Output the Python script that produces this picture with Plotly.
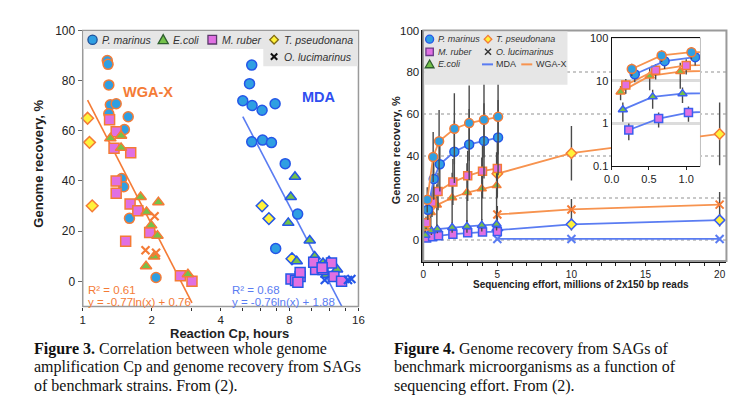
import numpy as np
import plotly.graph_objects as go

# page body has an 8px margin: the figure is laid out 748x407 starting at (8, 8)
OFF = 8
FW, FH = 748, 407
def PX(x): return (x - OFF) / FW
def PY(y): return 1 - (y - OFF) / FH

ORANGE = "#f47b36"
ORANGE_L = "#f7934f"
BLUE_TXT = "#2f4ff0"
BLUE_LINE = "#5a7cf2"
C_PM = "#2f9fe2"
C_EC = "#74c24a"
C_MR = "#e070e2"
C_TP = "#fff23a"
ERR = "#4a4a4a"

# ---------------- Figure 3 data (Reaction Cp vs genome recovery) ----------------
wgax_pm_x = [1.28, 1.29, 1.30, 1.32, 1.40, 1.30, 1.58, 1.52, 1.48, 1.51, 1.60, 2.09]
wgax_pm_y = [88, 86.5, 78.3, 70.4, 70.8, 66.8, 65.6, 60.5, 41, 37.7, 25.1, 1.5]
wgax_mr_x = [1.31, 1.40, 1.37, 1.62, 1.40, 1.40, 1.61, 1.74, 1.96, 1.54, 2.67, 3.0]
wgax_mr_y = [64.4, 59.6, 53, 51.3, 40, 35.1, 30.8, 28.1, 19.5, 16, 2.2, 0]
wgax_ec_x = [1.32, 1.47, 1.47, 1.79, 2.14, 1.90, 1.99, 2.12, 2.05, 1.89, 2.88]
wgax_ec_y = [57, 58, 53.2, 33.6, 31.5, 27.6, 22.3, 18.2, 9.9, 6, 2.8]
wgax_tp_x = [1.05, 1.07, 1.10]
wgax_tp_y = [65, 55.4, 30.1]
wgax_ol_x = [2.06, 1.88, 2.09]
wgax_ol_y = [25.9, 12.4, 11.4]

mda_pm_x = [5.47, 5.35, 5.0, 5.49, 6.07, 6.92, 5.47, 6.1, 6.67, 7.66, 8.68, 6.96]
mda_pm_y = [86.2, 78.8, 72, 70.1, 68.2, 70.8, 55.6, 56.3, 55.3, 46.9, 26.8, 13.1]
mda_ec_x = [8.45, 8.1, 7.9, 9.8, 10.3, 8.6, 11.2, 11.9, 12.9, 11.6]
mda_ec_y = [41.7, 33.6, 23.3, 16.3, 9.9, 8, 7.3, 8, 4.7, 2.6]
mda_mr_x = [8.12, 8.5, 8.9, 8.9, 8.7, 10.4, 10.2, 11.2, 12.5, 13.5, 12.2, 11.1]
mda_mr_y = [0.9, 0.3, 1.9, 3.5, -0.4, 4.7, 7.6, 4.7, 1.9, 0, 7.3, 5.4]
mda_tp_x = [6.07, 6.5, 8.2]
mda_tp_y = [30.1, 25, 9]
mda_ol_x = [11.4, 14.4, 14.9]
mda_ol_y = [0.5, 0.5, 0.9]

# regression fits: recovery = a*ln(x) + b (fraction), drawn over their x spans
fit_wgax = {"a": -0.77, "b": 0.76, "xspan": [1.05, 3.0]}
fit_mda = {"a": -0.76, "b": 1.88, "xspan": [5.0, 13.6]}

# ---------------- Figure 4 data (sequencing effort vs recovery) ----------------
s_wpm_x = [0.27, 0.67, 1.07, 2.1, 3.1, 4.1, 5.05]
s_wpm_y = [19, 39.5, 47, 53, 55.7, 57.3, 58.7]
s_wpm_e = [6, 12, 15, 17, 18, 18, 18]
s_mpm_x = [0.31, 0.71, 1.12, 2.1, 3.1, 4.1, 5.05]
s_mpm_y = [14.3, 29, 36, 42, 45.5, 47.2, 48.8]
s_mpm_e = [5, 10, 13, 15, 17, 18, 18]
s_wmr_x = [0.19, 0.59, 1.0, 2.0, 3.0, 4.0, 5.0]
s_wmr_y = [8, 17.8, 23, 27.5, 30.5, 32.7, 34]
s_wmr_e = [3, 7, 9, 11, 12, 13, 14]
s_wec_x = [0.12, 0.51, 0.92, 1.95, 2.95, 3.95, 4.95]
s_wec_y = [5.5, 13, 16.5, 20, 22.5, 24.3, 25.8]
s_wec_e = [2, 7, 10, 12, 14, 15, 16]
s_mec_x = [0.15, 0.55, 0.95, 1.95, 2.95, 3.95, 4.95]
s_mec_y = [2.1, 4.2, 5.0, 5.8, 6.3, 6.8, 7.3]
s_mec_e = [1, 2, 2, 2.5, 3, 3, 3]
s_mmr_x = [0.23, 0.63, 1.03, 2.0, 3.0, 4.0, 5.0]
s_mmr_y = [0.7, 1.3, 1.8, 2.6, 3.2, 3.6, 3.8]
s_mmr_e = [0.3, 0.5, 0.7, 1, 1, 1, 1]
s_wtp_x = [5, 10, 20]
s_wtp_y = [31.5, 41.3, 50.5]
s_wtp_e = [10, 13, 15]
s_mtp_x = [5, 10, 20]
s_mtp_y = [4.5, 7.3, 9.3]
s_mtp_e = [2, 3, 3]
s_wol_x = [5, 10, 20]
s_wol_y = [12, 14.4, 16.7]
s_wol_e = [4, 5, 6]
s_mol_x = [5, 10, 20]
s_mol_y = [0.3, 0.3, 0.3]
s_mol_e = [0.3, 0.3, 0.3]

fig3_xticks = [1, 2, 4, 8, 16]
fig3_yticks = [0, 20, 40, 60, 80, 100]
fig4_xticks = [0, 5, 10, 15, 20]
fig4_yticks = [0, 20, 40, 60, 80, 100]

fig = go.Figure()

# ---------- Figure 3 traces ----------
def pts(x, y, symbol, fill, edge, size, axis="", lw=1.5):
    if symbol == "x-thin":
        mk = dict(symbol=symbol, size=size, line=dict(color=edge, width=2.2))
    else:
        mk = dict(symbol=symbol, size=size, color=fill, line=dict(color=edge, width=lw))
    return go.Scatter(x=x, y=y, mode="markers", marker=mk, showlegend=False,
                      hoverinfo="skip", xaxis="x" + axis, yaxis="y" + axis, cliponaxis=False)

for fit, col in [(fit_wgax, ORANGE), (fit_mda, BLUE_LINE)]:
    xs = np.array(fit["xspan"])
    ys = 100 * (fit["a"] * np.log(xs) + fit["b"])
    fig.add_trace(go.Scatter(x=xs, y=ys, mode="lines", line=dict(color=col, width=1.6),
                             showlegend=False, hoverinfo="skip"))

fig.add_trace(pts(wgax_tp_x, wgax_tp_y, "diamond", C_TP, ORANGE, 9))
fig.add_trace(pts(wgax_pm_x, wgax_pm_y, "circle", C_PM, ORANGE, 10))
fig.add_trace(pts(wgax_mr_x, wgax_mr_y, "square", C_MR, ORANGE, 10))
fig.add_trace(pts(wgax_ec_x, wgax_ec_y, "triangle-up", C_EC, ORANGE, 10))
fig.add_trace(pts(wgax_ol_x, wgax_ol_y, "x-thin", None, ORANGE, 8))

fig.add_trace(pts(mda_pm_x, mda_pm_y, "circle", C_PM, "#2456e8", 10))
fig.add_trace(pts(mda_tp_x, mda_tp_y, "diamond", C_TP, "#2456e8", 9))
fig.add_trace(pts(mda_ec_x, mda_ec_y, "triangle-up", C_EC, "#2456e8", 10))
fig.add_trace(pts(mda_mr_x, mda_mr_y, "square", C_MR, "#2456e8", 10))
fig.add_trace(pts(mda_ol_x, mda_ol_y, "x-thin", None, "#2456e8", 8))

# ---------- Figure 4 traces ----------
def series(x, y, e, symbol, fill, edge, linecol, size, axis):
    if symbol == "x-thin":
        mk = dict(symbol=symbol, size=size, line=dict(color=edge, width=2))
    else:
        mk = dict(symbol=symbol, size=size, color=fill, line=dict(color=edge, width=1.5))
    return go.Scatter(x=x, y=y, mode="lines+markers", marker=mk,
                      line=dict(color=linecol, width=1.8),
                      error_y=dict(type="data", array=e, visible=True, color=ERR,
                                   thickness=1.4, width=0),
                      showlegend=False, hoverinfo="skip",
                      xaxis="x" + axis, yaxis="y" + axis)

S = [
    (s_mol_x, s_mol_y, s_mol_e, "x-thin", None, BLUE_LINE, BLUE_LINE, 8),
    (s_wol_x, s_wol_y, s_wol_e, "x-thin", None, ORANGE, ORANGE_L, 8),
    (s_mtp_x, s_mtp_y, s_mtp_e, "diamond", C_TP, "#3a5ef0", BLUE_LINE, 8),
    (s_wtp_x, s_wtp_y, s_wtp_e, "diamond", C_TP, ORANGE, ORANGE_L, 8),
    (s_mmr_x, s_mmr_y, s_mmr_e, "square", C_MR, "#3a5ef0", BLUE_LINE, 8),
    (s_mec_x, s_mec_y, s_mec_e, "triangle-up", C_EC, "#3a5ef0", BLUE_LINE, 8),
    (s_wec_x, s_wec_y, s_wec_e, "triangle-up", C_EC, ORANGE, ORANGE_L, 8),
    (s_wmr_x, s_wmr_y, s_wmr_e, "square", C_MR, ORANGE, ORANGE_L, 8),
    (s_mpm_x, s_mpm_y, s_mpm_e, "circle", C_PM, "#2456e8", BLUE_LINE, 9),
    (s_wpm_x, s_wpm_y, s_wpm_e, "circle", C_PM, ORANGE, ORANGE_L, 9),
]
for s in S:
    fig.add_trace(series(*s, axis="2"))
inset_ids = [4, 5, 6, 7, 8, 9]
for i in inset_ids:
    fig.add_trace(series(*S[i], axis="3"))

# ---------- axes ----------
tickfont3 = dict(family="Liberation Sans", size=11.5, color="#222")
tickfont4 = dict(family="Liberation Sans", size=10, color="#222")
fig.update_layout(
    xaxis=dict(domain=[PX(76), PX(357)], type="log", range=[0, np.log10(16)],
               tickvals=fig3_xticks, ticktext=[str(v) for v in fig3_xticks],
               ticks="outside", ticklen=3, tickcolor="#333", showgrid=False, zeroline=False,
               showline=True, linecolor="#333", linewidth=1.3, tickfont=tickfont3,
               minor=dict(tickvals=[3, 5, 6, 7, 10, 12, 14], ticks="outside", ticklen=3,
                          tickcolor="#333", showgrid=False),
               anchor="y"),
    yaxis=dict(domain=[PY(309), PY(24)], range=[-10, 100], tickvals=fig3_yticks,
               ticks="outside", ticklen=4, tickcolor="#666", showgrid=False, zeroline=False,
               showline=True, linecolor="#777", linewidth=1.3,
               tickfont=dict(family="Liberation Sans", size=12, color="#222"), anchor="x"),
    xaxis2=dict(domain=[PX(423), PX(732)], range=[0, 20.46], tickvals=fig4_xticks,
                ticks="outside", ticklen=3, tickcolor="#222", showgrid=False, zeroline=False,
                showline=True, linecolor="#111", linewidth=1.5, tickfont=tickfont4,
                minor=dict(dtick=1, ticks="outside", ticklen=3, tickcolor="#222"),
                anchor="y2"),
    yaxis2=dict(domain=[PY(262), PY(24)], range=[-10.2, 100], tickvals=fig4_yticks,
                ticks="", showgrid=True, gridcolor="#c8c8c8", griddash="dot", gridwidth=1.5,
                zeroline=False, showline=True, linecolor="#111", linewidth=1.5,
                tickfont=dict(family="Liberation Sans", size=11.5, color="#222"), anchor="x2"),
    xaxis3=dict(domain=[PX(615), PX(705)], range=[0, 1.184], tickvals=[0, 0.5, 1.0],
                ticktext=["0.0", "0.5", "1.0"], ticks="outside", ticklen=3, tickcolor="#222",
                showgrid=False, zeroline=False, showline=True, linecolor="#111", linewidth=1.3,
                mirror=True, tickfont=dict(family="Liberation Sans", size=11, color="#222"),
                anchor="y3"),
    yaxis3=dict(domain=[PY(164), PY(32)], type="log", range=[-1, 2],
                tickvals=[0.1, 1, 10, 100], ticktext=["0.1", "1", "10", "100"], ticks="",
                showgrid=True, gridcolor="#dcdcdc", gridwidth=2.5, zeroline=False,
                showline=True, linecolor="#111", linewidth=1.3,
                tickfont=dict(family="Liberation Sans", size=11, color="#222"), anchor="x3"),
)

shapes = []
ann = []
# frames
shapes.append(dict(type="rect", xref="x domain", yref="y domain", x0=0, x1=1, y0=0, y1=1,
                   line=dict(color="#9a9a9a", width=1.5), layer="above"))
shapes.append(dict(type="rect", xref="x2 domain", yref="y2 domain", x0=0, x1=1, y0=0, y1=1,
                   line=dict(color="#9a9a9a", width=2), layer="above"))
shapes.append(dict(type="rect", xref="x3 domain", yref="y3 domain", x0=0, x1=1, y0=0, y1=1,
                   line=dict(color="#999", width=1.3), layer="below"))

# ---------- legends (drawn) ----------
LG = "#e6e6e6"
shapes.append(dict(type="rect", xref="paper", yref="paper", x0=PX(76.5), x1=PX(356.5),
                   y0=PY(43), y1=PY(24.5), fillcolor=LG, line=dict(width=0), layer="above"))
shapes.append(dict(type="rect", xref="paper", yref="paper", x0=PX(260), x1=PX(356.5),
                   y0=PY(61), y1=PY(43), fillcolor=LG, line=dict(width=0), layer="above"))
shapes.append(dict(type="rect", xref="paper", yref="paper", x0=PX(424), x1=PX(570),
                   y0=PY(80), y1=PY(25), fillcolor=LG, line=dict(width=0), layer="above"))

def sym(kind, cx, cy, fill, edge, r=4.5, lw=1.3):
    base = dict(xref="paper", yref="paper", xsizemode="pixel", ysizemode="pixel",
                xanchor=PX(cx), yanchor=PY(cy), layer="above",
                line=dict(color=edge, width=lw))
    if kind == "circle":
        base.update(type="circle", x0=-r, x1=r, y0=-r, y1=r, fillcolor=fill)
    elif kind == "square":
        base.update(type="rect", x0=-r, x1=r, y0=-r, y1=r, fillcolor=fill)
    elif kind == "triangle":
        base.update(type="path", path=f"M{-r*1.1},{-r*0.85} L{r*1.1},{-r*0.85} L0,{r*1.1} Z",
                    fillcolor=fill)
    elif kind == "diamond":
        base.update(type="path", path=f"M0,{-r} L{r},0 L0,{r} L{-r},0 Z", fillcolor=fill)
    elif kind == "x":
        base.update(type="path", path=f"M{-r*0.8},{-r*0.8} L{r*0.8},{r*0.8} M{-r*0.8},{r*0.8} L{r*0.8},{-r*0.8}")
    elif kind == "line":
        base.update(type="line", x0=-r, x1=r, y0=0, y1=0)
    shapes.append(base)

def ltext(t, x, y, size, italic=True):
    ann.append(dict(text=(f"<i>{t}</i>" if italic else t), x=PX(x), y=PY(y), xref="paper",
                    yref="paper", xanchor="left", yanchor="middle", showarrow=False,
                    font=dict(family="Liberation Sans", size=size, color="#333")))

# Fig 3 legend
sym("circle", 86, 33.5, C_PM, "#1d4f9a", 4.6)
ltext("P. marinus", 94, 33.5, 10.5)
sym("triangle", 158, 33.5, C_EC, "#2f5f2f", 4.6)
ltext("E.coli", 166, 33.5, 10.5)
sym("square", 208, 33.5, C_MR, "#5a3a6a", 4.3)
ltext("M. ruber", 216, 33.5, 10.5)
sym("diamond", 271, 33.5, C_TP, "#806a10", 4.3)
ltext("T. pseudonana", 279, 33.5, 10.5)
sym("x", 271, 51, None, "#111", 4, 2)
ltext("O. lucimarinus", 279, 51, 10.5)

# Fig 4 legend
sym("circle", 429.5, 33, C_PM, "#2456e8", 4)
ltext("P. marinus", 436, 33, 9)
sym("diamond", 489, 33, C_TP, ORANGE, 3.8)
ltext("T. pseudonana", 495.5, 33, 9)
sym("square", 429.5, 46, C_MR, "#6a3a8a", 3.7)
ltext("M. ruber", 436, 46, 9)
sym("x", 489, 46, None, "#333", 3.8, 1.4)
ltext("O. lucimarinus", 495.5, 46, 9)
sym("triangle", 429.5, 59, C_EC, "#2f5f2f", 4)
ltext("E.coli", 436, 59, 9)
sym("line", 488.5, 59, None, BLUE_LINE, 5.5, 2)
ltext("MDA", 495.5, 59, 9, italic=False)
sym("line", 528.5, 59, None, ORANGE_L, 5.5, 2)
ltext("WGA-X", 535.5, 59, 9, italic=False)

# ---------- chart texts ----------
def txt(t, x, y, size, color, bold=False, xanchor="left", family="Liberation Sans", angle=0):
    ann.append(dict(text=(f"<b>{t}</b>" if bold else t), x=PX(x), y=PY(y), xref="paper",
                    yref="paper", xanchor=xanchor, yanchor="middle", showarrow=False,
                    textangle=angle, font=dict(family=family, size=size, color=color)))

txt("WGA-X", 143, 88, 14.5, ORANGE, True, "center")
txt("MDA", 317, 93, 14.5, BLUE_TXT, True, "center")
txt("R² = 0.61", 79, 292, 11.5, ORANGE)
txt("y = -0.77ln(x) + 0.76", 79, 304.5, 11.5, ORANGE)
txt("R² = 0.68", 226, 292, 11.5, BLUE_LINE)
txt("y = -0.76ln(x) + 1.88", 226, 304.5, 11.5, BLUE_LINE)

txt("Genome recovery, %", 31, 162, 13, "#222", True, "center", angle=-90)
txt("Reaction Cp, hours", 226, 337, 13, "#222", True, "center")
txt("Genome recovery, %", 395, 148, 11, "#222", True, "center", angle=-90)
txt("Sequencing effort, millions of 2x150 bp reads", 584, 286, 10, "#222", True, "center")

cap3 = ["<b>Figure 3.</b> Correlation between whole genome",
        "amplification Cp and genome recovery from SAGs",
        "of benchmark strains. From (2)."]
cap4 = ["<b>Figure 4.</b> Genome recovery from SAGs of",
        "benchmark microorganisms as a function of",
        "sequencing effort. From (2)."]
for i, line in enumerate(cap3):
    txt(line, 24, 353 + 19 * i, 16, "#111", family="Liberation Serif")
for i, line in enumerate(cap4):
    txt(line, 391, 353 + 19 * i, 16, "#111", family="Liberation Serif")

fig.update_layout(width=FW, height=FH, autosize=False, margin=dict(l=0, r=0, t=0, b=0),
                  paper_bgcolor="white", plot_bgcolor="white",
                  shapes=shapes, annotations=ann, showlegend=False)

fig.write_html("out.html", config={"displayModeBar": False})
